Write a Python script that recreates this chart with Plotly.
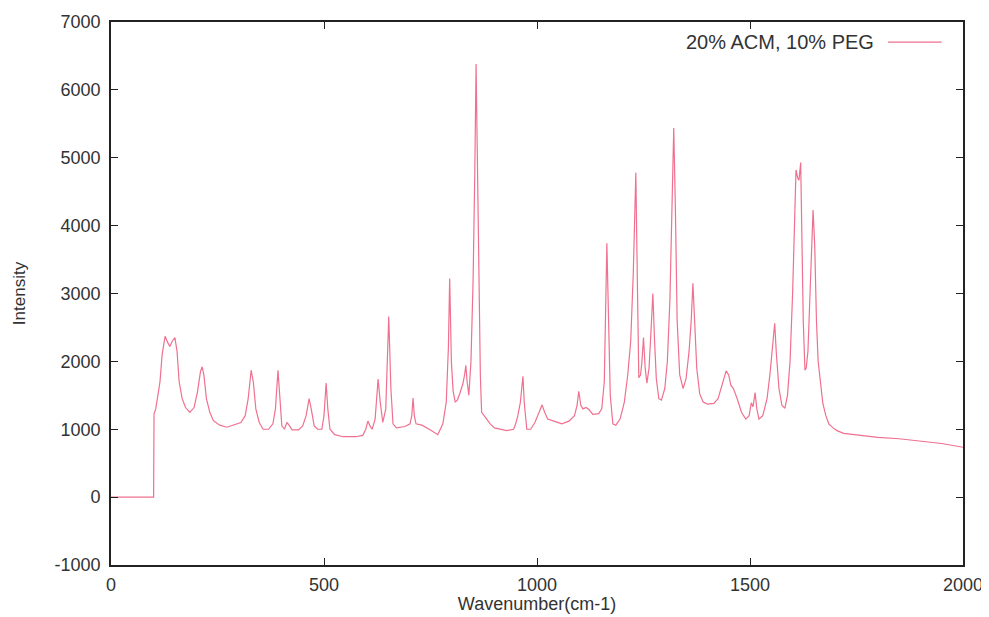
import plotly.graph_objects as go

wavenumber = [0, 100, 101, 105, 110, 115, 120, 127, 133, 138, 144, 150, 155, 160, 167, 175, 185, 195,
              203, 210, 214, 218, 224, 232, 240, 255, 272, 290, 305, 315, 322, 329, 334, 340, 348,
              357, 370, 380, 386, 392, 396, 401, 407, 413, 418, 425, 440, 450, 458, 465, 470, 477,
              485, 495, 500, 505, 509, 514, 525, 545, 575, 591, 598, 603, 608, 613, 620, 627, 632,
              638, 645, 652, 657, 662, 670, 690, 702, 706, 709, 712, 716, 730, 750, 767, 779, 787,
              792, 795, 799, 803, 808, 813, 819, 826, 830, 833, 836, 840, 845, 850, 854, 857, 860,
              864, 867, 870, 875, 882, 890, 900, 929, 945, 950, 955, 961, 967, 970, 976, 985, 995,
              1005, 1012, 1018, 1025, 1040, 1058, 1075, 1088, 1094, 1098, 1103, 1108, 1115, 1122,
              1131, 1145, 1152, 1158, 1164, 1168, 1172, 1178, 1185, 1195, 1205, 1213, 1220, 1226,
              1232, 1236, 1239, 1243, 1246, 1250, 1254, 1258, 1263, 1268, 1272, 1276, 1280, 1286,
              1292, 1300, 1306, 1312, 1317, 1321, 1325, 1329, 1335, 1343, 1350, 1357, 1362, 1366,
              1370, 1375, 1382, 1390, 1400, 1415, 1425, 1435, 1444, 1450, 1455, 1461, 1470, 1480,
              1490, 1498, 1503, 1507, 1512, 1516, 1521, 1530, 1540, 1547, 1552, 1558, 1562, 1568,
              1575, 1582, 1588, 1594, 1600, 1605, 1608, 1612, 1615, 1619, 1622, 1625, 1629, 1632,
              1636, 1641, 1645, 1648, 1652, 1656, 1660, 1666, 1671, 1678, 1685, 1695, 1704, 1720,
              1750, 1800, 1850, 1900, 1950, 2000]
intensity = [0, 0, 1225, 1300, 1500, 1700, 2100, 2370, 2280, 2220, 2300, 2350, 2150, 1700, 1450, 1320, 1250, 1320,
             1550, 1850, 1920, 1800, 1450, 1250, 1130, 1060, 1030, 1070, 1100, 1200, 1450, 1870, 1700, 1300, 1100,
             1000, 1000, 1080, 1300, 1870, 1500, 1050, 1000, 1100, 1060, 990, 990, 1050, 1200, 1450, 1300, 1050,
             1000, 1000, 1200, 1680, 1300, 1000, 920, 890, 890, 910, 1000, 1120, 1050, 1000, 1150, 1740, 1400,
             1100, 1300, 2660, 1600, 1080, 1020, 1040, 1080, 1200, 1460, 1200, 1080, 1060, 990, 920, 1080, 1400,
             2200, 3220, 2000, 1570, 1400, 1430, 1530, 1670, 1800, 1940, 1700, 1500, 2000, 3200, 4800, 6380, 5000,
             3200, 1800, 1250, 1200, 1150, 1080, 1020, 980, 1000, 1080, 1200, 1400, 1780, 1400, 1000, 1000, 1100,
             1250, 1360, 1250, 1150, 1120, 1080, 1120, 1200, 1350, 1560, 1350, 1300, 1320, 1290,
             1220, 1230, 1300, 1700, 3740, 2600, 1500, 1080, 1060, 1150, 1400, 1800, 2300, 3300,
             4780, 3000, 1760, 1800, 1970, 2350, 1900, 1680, 1900, 2500, 3000, 2300, 1750, 1450,
             1430, 1600, 2000, 2900, 4300, 5440, 4200, 2600, 1800, 1600, 1750, 2150, 2600, 3150,
             2600, 1900, 1520, 1400, 1370, 1380, 1450, 1650, 1860, 1800, 1650, 1600, 1450, 1250,
             1150, 1200, 1390, 1330, 1540, 1300, 1150, 1200, 1450, 1820, 2200, 2560, 2100, 1600,
             1350, 1310, 1500, 2000, 3000, 4300, 4820, 4700, 4670, 4930, 3800, 2600, 1870, 1900,
             2150, 3000, 3800, 4230, 3700, 2600, 2000, 1600, 1380, 1200, 1080, 1020, 980, 940,
             920, 880, 860, 820, 790, 735]

series_name = "20% ACM, 10% PEG"
x_ticks = [0, 500, 1000, 1500, 2000]
y_ticks = [-1000, 0, 1000, 2000, 3000, 4000, 5000, 6000, 7000]

line_color = "#f0708f"
font_family = "Liberation Sans, Arial, sans-serif"
text_color = "#333333"

fig = go.Figure()
fig.add_trace(go.Scatter(x=wavenumber, y=intensity, mode="lines", name=series_name,
                         line=dict(color=line_color, width=1.2), showlegend=False))

axis_common = dict(showgrid=False, zeroline=False, showline=True, linecolor="#222222",
                   linewidth=1.8, mirror="ticks", ticks="inside", ticklen=7,
                   tickcolor="#222222", tickwidth=1.2, automargin=False,
                   tickfont=dict(family=font_family, size=18, color=text_color))

fig.update_xaxes(range=[0, 2000], tickvals=x_ticks, ticktext=[str(v) for v in x_ticks],
                 ticklabelstandoff=2,
                 title=dict(text="Wavenumber(cm-1)", font=dict(family=font_family, size=18, color=text_color),
                            standoff=3),
                 **axis_common)
fig.update_yaxes(range=[-1000, 7000], tickvals=y_ticks, ticktext=[str(v) for v in y_ticks],
                 ticklabelstandoff=5,
                 title=dict(text="Intensity", font=dict(family=font_family, size=17, color=text_color),
                            standoff=25),
                 **axis_common)

# legend (text with line sample on its right, as in the reference)
fig.add_annotation(xref="paper", yref="paper", x=0.898, y=0.963, xanchor="right", yanchor="middle",
                   text=series_name, showarrow=False,
                   font=dict(family=font_family, size=20, color=text_color))
fig.add_shape(type="line", xref="paper", yref="paper", x0=0.912, x1=0.975, y0=0.963, y1=0.963,
              line=dict(color=line_color, width=1.2))

fig.update_layout(width=989, height=617, margin=dict(l=103, r=34, t=14, b=60),
                  paper_bgcolor="white", plot_bgcolor="white",
                  font=dict(family=font_family, color=text_color))

fig.write_html("out.html")
